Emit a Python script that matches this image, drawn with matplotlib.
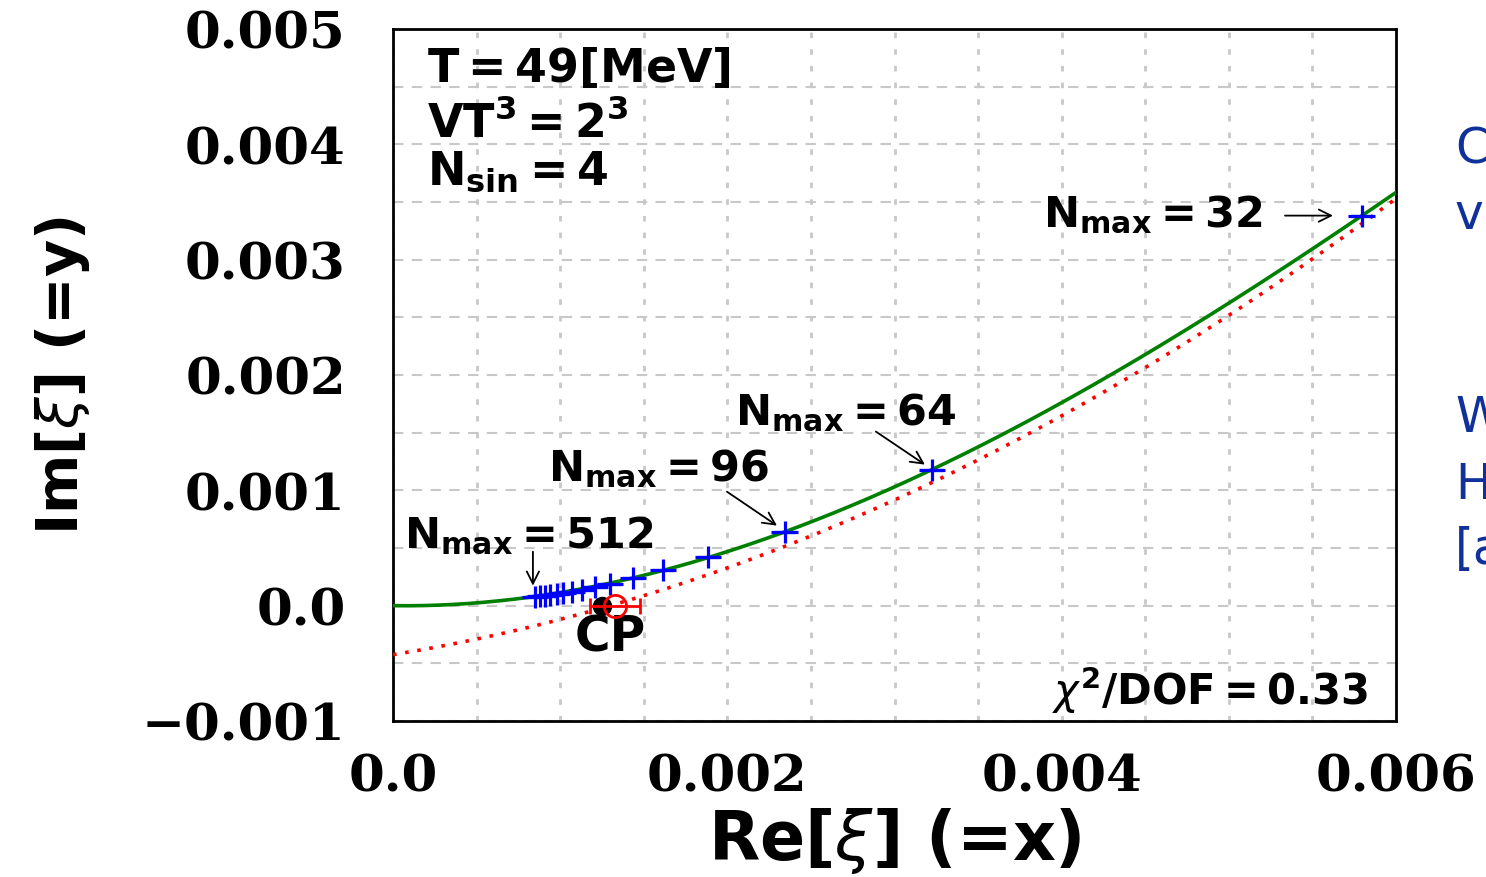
import matplotlib
matplotlib.use("Agg")
import matplotlib.pyplot as plt
from matplotlib.ticker import MultipleLocator
import numpy as np

plt.rcParams['mathtext.fontset'] = 'dejavusans'

# Lee-Yang zeros for N_max = 32, 64, ..., 512 (units of 1e-3)
nmax = [32, 64, 96, 128, 160, 192, 224, 256, 288, 320, 352, 384, 416, 448, 480, 512]
re_xi = [5.795, 3.224, 2.344, 1.884, 1.615, 1.436, 1.298, 1.208,
         1.131, 1.071, 1.017, 0.981, 0.939, 0.909, 0.879, 0.849]
im_xi = [3.38, 1.18, 0.642, 0.425, 0.312, 0.243, 0.191, 0.165,
         0.139, 0.121, 0.108, 0.100, 0.090, 0.085, 0.080, 0.075]
re_err = [0.08] * len(re_xi)

# critical point estimates (units of 1e-3)
cp_black = (1.25, 0.0)
cp_red = (1.33, 0.0)
cp_red_err = 0.15

# fit curves, y = sum c_k x^k (units of 1e-3)
green_coef = [0.0, -0.01988, 0.13926, -0.00607]
red_coef = [-0.425, 0.235, 0.0707]

xticks = [0.0, 0.002, 0.004, 0.006]
xticklabels = ["0.0", "0.002", "0.004", "0.006"]
yticks = [-0.001, 0.0, 0.001, 0.002, 0.003, 0.004, 0.005]
yticklabels = ["\u22120.001", "0.0", "0.001", "0.002", "0.003", "0.004", "0.005"]

m = 1e-3

fig = plt.figure(figsize=(14.86, 8.78), dpi=100)
ax = fig.add_axes([393/1486, 1-722/878, 1003/1486, 692/878])

u = np.linspace(0, 6, 400)
ax.plot(u*m, np.polyval(green_coef[::-1], u)*m, color='#008000', lw=2.6, zorder=3)
ax.plot(u*m, np.polyval(red_coef[::-1], u)*m, color='#ff0000', lw=2.6,
        ls=(0, (1, 2.4)), zorder=3)

ax.errorbar(np.array(re_xi)*m, np.array(im_xi)*m, xerr=np.array(re_err)*m,
            fmt='+', color='#0000ff', ms=16, mew=2.3, elinewidth=2.3, capsize=0, zorder=5)

ax.plot(cp_black[0]*m, cp_black[1]*m, 'o', color='black', ms=13, zorder=4)
ax.errorbar(cp_red[0]*m, cp_red[1]*m, xerr=cp_red_err*m, fmt='o', mfc='none',
            mec='#ff0000', color='#ff0000', ms=16, mew=2, elinewidth=2,
            capsize=6, capthick=2, zorder=6)

ax.set_xlim(0, 0.006)
ax.set_ylim(-0.001, 0.005)
ax.set_xticks(xticks, xticklabels)
ax.set_yticks(yticks, yticklabels)
ax.xaxis.set_minor_locator(MultipleLocator(0.0005))
ax.yaxis.set_minor_locator(MultipleLocator(0.0005))
ax.tick_params(which='both', length=0)
ax.tick_params(axis='y', pad=34)
ax.tick_params(axis='x', pad=23)
for lab in ax.get_xticklabels() + ax.get_yticklabels():
    lab.set_fontfamily('DejaVu Serif')
    lab.set_fontweight('bold')
    lab.set_fontsize(37)

ax.xaxis.grid(True, which='both', color='#c8c8c8', lw=2, ls=(0, (2, 4)))
ax.yaxis.grid(True, which='both', color='#c8c8c8', lw=1.5, ls=(0, (5, 4)))
ax.set_axisbelow(True)
for s in ax.spines.values():
    s.set_linewidth(2)

ax.set_xlabel(r"Re[$\xi$] (=x)", fontsize=48, fontweight='bold', va='center')
ax.xaxis.set_label_coords(0.5, -0.172)
ax.set_ylabel(r"Im[$\xi$] (=y)", fontsize=41, fontweight='bold', va='center')
ax.yaxis.set_label_coords(-0.33, 0.5)

# parameter box text
fs = 31
ax.text(0.203*m, 4.552*m, r"$\mathbf{T=49[MeV]}$", fontsize=33, va='baseline')
ax.text(0.203*m, 4.075*m, r"$\mathbf{VT^3=2^3}$", fontsize=33, va='baseline')
ax.text(0.203*m, 3.659*m, r"$\mathbf{N_{sin}=4}$", fontsize=33, va='baseline')
ax.text(5.833*m, -0.850*m, r"$\chi^{\mathbf{2}}\mathbf{/DOF=0.33}$", fontsize=30,
        ha='right', va='baseline')

# N_max labels and arrows
labels = [
    (r"$\mathbf{N_{max}=32}$", (5.204, 3.295), (5.336, 3.382), (5.623, 3.382)),
    (r"$\mathbf{N_{max}=64}$", (3.368, 1.578), (2.889, 1.509), (3.182, 1.223)),
    (r"$\mathbf{N_{max}=96}$", (2.249, 1.093), (1.998, 0.988), (2.297, 0.694)),
    (r"$\mathbf{N_{max}=512}$", (1.555, 0.512), (0.837, 0.468), (0.837, 0.173)),
]
for txt, tpos, tail, head in labels:
    ax.text(tpos[0]*m, tpos[1]*m, txt, fontsize=fs, ha='right', va='baseline')
    ax.annotate("", xy=(head[0]*m, head[1]*m), xytext=(tail[0]*m, tail[1]*m),
                arrowprops=dict(arrowstyle='->', lw=1.3, color='black',
                                mutation_scale=22, shrinkA=0, shrinkB=0))

ax.text(1.30*m, -0.265*m, "CP", fontsize=35, fontweight='bold', ha='center', va='center')

# slide text cut off at the right edge
blue = '#10309a'
for txt, py in [("C", 150), ("vi", 215), ("W", 418), ("H", 485), ("[a", 550)]:
    fig.text(1455/1486, 1-py/878, txt, fontsize=35, color=blue, va='center')

plt.savefig("out.png", dpi=100)
